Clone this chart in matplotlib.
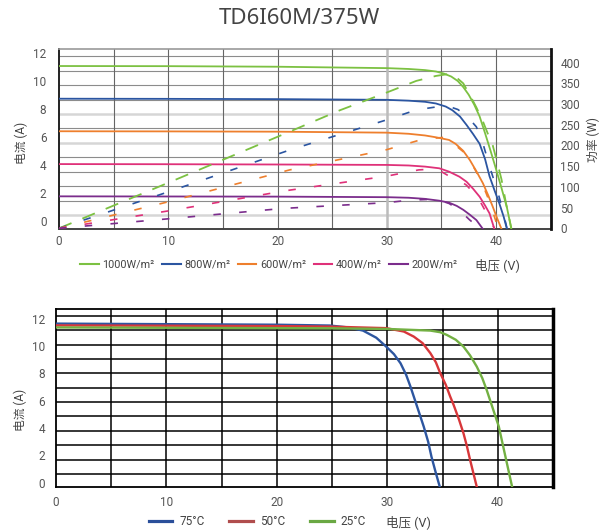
import matplotlib
matplotlib.use('Agg')
import matplotlib.pyplot as plt
import numpy as np
from matplotlib.lines import Line2D

plt.rcParams['font.family'] = ['Roboto', 'Noto Sans CJK SC', 'DejaVu Sans']

# ---- top chart: I-V curves at different irradiance (left axis, A) ----
irr_labels = ['1000W/m²', '800W/m²', '600W/m²', '400W/m²', '200W/m²']
irr_colors = ['#7cc142', '#2b55a1', '#ee7f2d', '#df3179', '#7b2d8c']

v_1000 = [0, 10, 20, 30, 32, 33.5, 34.5, 35.2, 35.9, 36.5, 37.0, 37.5, 38.0, 38.5, 39.0, 39.5, 40.0, 40.5, 41.0, 41.4]
i_1000 = [11.05, 11.04, 11.0, 10.9, 10.84, 10.76, 10.66, 10.52, 10.3, 9.98, 9.55, 9.0, 8.3, 7.45, 6.25, 5.0, 3.7, 2.35, 0.95, -0.57]
v_800 = [0, 10, 20, 30, 32, 33.5, 34.5, 35.4, 36.0, 36.7, 37.3, 37.9, 38.5, 39.0, 39.4, 39.9, 40.3, 40.7, 41.0]
i_800 = [8.72, 8.71, 8.69, 8.64, 8.58, 8.5, 8.38, 8.16, 7.9, 7.45, 6.85, 6.2, 5.5, 4.4, 3.2, 2.1, 1.26, 0.3, -0.57]
v_600 = [0, 10, 20, 30, 32, 33.5, 34.5, 35.7, 36.3, 37.0, 37.6, 38.2, 38.8, 39.3, 39.7, 40.1, 40.5]
i_600 = [6.4, 6.39, 6.37, 6.3, 6.22, 6.1, 5.97, 5.78, 5.5, 5.0, 4.35, 3.55, 2.69, 1.8, 1.02, 0.2, -0.57]
v_400 = [0, 10, 20, 30, 32, 33.5, 34.8, 35.7, 36.65, 37.3, 37.9, 38.5, 39.0, 39.4, 39.85]
i_400 = [4.06, 4.05, 4.03, 4.0, 3.96, 3.88, 3.76, 3.52, 3.16, 2.8, 2.3, 1.73, 1.1, 0.55, -0.57]
v_200 = [0, 10, 20, 30, 32, 33.5, 34.8, 35.7, 36.4, 37.0, 37.6, 38.2, 38.8]
i_200 = [1.76, 1.75, 1.74, 1.7, 1.66, 1.58, 1.45, 1.31, 1.08, 0.8, 0.45, 0.07, -0.57]

# power curves (right axis, W)
pv_1000 = [0, 10, 20, 25.7, 30, 32.7, 34.5, 35.5, 36.3, 37.0, 37.6, 38.2, 38.8, 39.3, 39.7, 40.1, 40.5, 40.9, 41.4]
p_1000 = [0, 110, 221, 285, 328, 356, 368, 372, 366, 350, 322, 292, 258, 225, 200, 160, 118, 62, 0]
pv_800 = [0, 10, 21.1, 30, 32.7, 34.5, 35.6, 36.5, 37.3, 38.2, 38.8, 39.4, 40.2, 40.6, 41.0]
p_800 = [0, 88, 189, 262, 286, 293, 295, 287, 272, 245, 205, 150, 84, 44, 0]
pv_600 = [0, 10, 21.1, 30, 33.0, 34.5, 35.4, 36.3, 37.0, 37.6, 38.2, 38.8, 39.3, 39.7, 40.1, 40.5]
p_600 = [0, 64, 141, 190, 213, 218, 220, 200, 185, 164, 136, 104, 71, 40, 8, 0]
pv_400 = [0, 10, 20.8, 30, 32.9, 34.0, 34.8, 35.7, 36.65, 37.3, 37.9, 38.5, 39.0, 39.4, 39.85]
p_400 = [0, 42, 91, 126, 141, 143, 140, 126, 116, 104, 87, 67, 43, 22, 0]
pv_200 = [0, 10, 20.5, 30, 32.1, 34.0, 34.8, 35.7, 36.4, 37.0, 37.6, 38.2, 38.8]
p_200 = [0, 23, 48, 62, 68, 70, 68, 60, 48, 35, 20, 7, 0]

# ---- bottom chart: I-V curves at different temperature ----
temp_labels = ['75°C', '50°C', '25°C']
v_75 = [0, 20, 24.8, 26.5, 27.8, 29.0, 29.9, 30.6, 31.2, 31.7, 32.1, 32.5, 32.8, 33.3, 33.7, 34.0, 34.4, 34.75]
i_75 = [11.63, 11.55, 11.49, 11.35, 11.12, 10.6, 9.95, 9.4, 8.73, 7.9, 7.02, 6.05, 5.32, 4.1, 3.0, 1.9, 0.7, -0.29]
v_50 = [0, 20, 24.8, 29.9, 31.5, 32.4, 33.2, 33.9, 34.4, 34.8, 35.3, 35.7, 36.0, 36.5, 36.9, 37.2, 37.5, 38.1]
i_50 = [11.5, 11.45, 11.41, 11.3, 11.05, 10.68, 10.2, 9.47, 8.8, 8.0, 7.15, 6.29, 5.7, 4.6, 3.61, 2.7, 1.66, -0.29]
v_25 = [0, 20, 24.8, 30, 33.9, 34.8, 35.4, 36.2, 36.9, 37.5, 38.1, 38.6, 39.0, 39.3, 39.6, 40.1, 40.4, 40.7, 41.3]
i_25 = [11.35, 11.3, 11.29, 11.24, 11.12, 11.0, 10.8, 10.45, 9.95, 9.3, 8.49, 7.65, 6.78, 6.05, 5.32, 4.1, 3.0, 1.9, -0.29]

fig = plt.figure(figsize=(6.12, 5.32), dpi=100)

fig.text(0.4886, 0.9656, 'TD6I60M/375W', ha='center', va='center',
         fontsize=16, color='#444444', family=['Noto Sans', 'DejaVu Sans'])

# top chart
ax1 = fig.add_axes([0.0964, 0.5695, 0.8034, 0.3383])
ax1.set_xlim(0, 45)
ax1.set_ylim(-0.57, 12.26)
ax1.set_xticks([0, 10, 20, 30, 40])
ax1.set_yticks([0, 2, 4, 6, 8, 10, 12])
ax1.tick_params(length=0, labelsize=8.5, colors='#555555')
ax1.tick_params(axis='y', pad=9)
ax1.tick_params(axis='x', pad=4)

for k in range(12):
    yg = 11.74 - 1.028 * k
    if k in (4, 6, 11):
        ax1.axhline(yg, color='#d6d6d6', lw=1.8, zorder=0.5)
    else:
        ax1.axhline(yg, color='#8c8c8c', lw=0.8, zorder=0.5)
for xg in [5, 10, 15, 20, 25, 35, 40]:
    ax1.axvline(xg, color='#666666', lw=0.8, zorder=0.5)
ax1.axvline(30, color='#bcbcbc', lw=1.8, zorder=0.5)

ax1.spines['top'].set_color('#999999')
ax1.spines['top'].set_linewidth(1.2)
ax1.spines['left'].set_color('#222222')
ax1.spines['left'].set_linewidth(1.4)
ax1.spines['bottom'].set_color('#444444')
ax1.spines['bottom'].set_linewidth(1.4)
ax1.spines['right'].set_visible(False)

iv_sets = [(v_1000, i_1000), (v_800, i_800), (v_600, i_600), (v_400, i_400), (v_200, i_200)]
for (vv, ii), c in zip(iv_sets, irr_colors):
    ax1.plot(vv, ii, color=c, lw=1.3, zorder=3)

ax2 = ax1.twinx()
ax2.set_ylim(-1.7, 432.9)
ax2.set_yticks([0, 50, 100, 150, 200, 250, 300, 350, 400])
ax2.tick_params(length=0, labelsize=8.5, colors='#555555', pad=7)
ax2.spines['right'].set_color('#111111')
ax2.spines['right'].set_linewidth(2)
for s in ['top', 'left', 'bottom']:
    ax2.spines[s].set_visible(False)

p_sets = [(pv_1000, p_1000), (pv_800, p_800), (pv_600, p_600), (pv_400, p_400), (pv_200, p_200)]
for n, ((vv, pp), c) in enumerate(zip(p_sets, irr_colors)):
    if n == 0:
        ax2.plot(vv, pp, color=c, lw=1.3, dashes=(7.5, 6.5))
    else:
        ax2.plot(vv, pp, color=c, lw=1.2, dashes=(4.5, 11.0), dash_capstyle='butt')
ax2.set_zorder(ax1.get_zorder() + 1)

fig.text(0.0355, 0.731, '电流 (A)', rotation=90, ha='center', va='center',
         fontsize=8.5, color='#444444')
fig.text(0.969, 0.737, '功率 (W)', rotation=90, ha='center', va='center',
         fontsize=8.5, color='#444444')

h_top = [Line2D([], [], color=c, lw=1.5) for c in irr_colors]
fig.legend(h_top, irr_labels, loc='center left', bbox_to_anchor=(0.131, 0.502),
           ncol=5, frameon=False, fontsize=7.8, handlelength=1.7, handletextpad=0.35,
           columnspacing=0.7, borderpad=0, borderaxespad=0, labelcolor='#444444')
fig.text(0.776, 0.502, '电压 (V)', ha='left', va='center', fontsize=9, color='#444444')

# bottom chart
ax3 = fig.add_axes([0.0915, 0.0852, 0.812, 0.3335])
ax3.set_xlim(0, 45)
ax3.set_ylim(-0.29, 12.68)
ax3.set_xticks([0, 10, 20, 30, 40])
ax3.set_yticks([0, 2, 4, 6, 8, 10, 12])
ax3.tick_params(length=0, labelsize=8.5, colors='#555555')
ax3.tick_params(axis='y', pad=8)
ax3.tick_params(axis='x', pad=7)

for k in range(12):
    ax3.axhline(12.19 - 1.05 * k, color='#000000', lw=1.1, zorder=0.5)
for xg in [5, 10, 15, 20, 25, 30, 35, 40]:
    ax3.axvline(xg, color='#000000', lw=1.1, zorder=0.5)
for s in ['top', 'left', 'bottom']:
    ax3.spines[s].set_linewidth(1.3)
ax3.spines['right'].set_linewidth(2.5)

temp_colors = ['#2d56a0', '#d8373a', '#73b043']
for (vv, ii), c in zip([(v_75, i_75), (v_50, i_50), (v_25, i_25)], temp_colors):
    ax3.plot(vv, ii, color=c, lw=1.7, zorder=3)

fig.text(0.0327, 0.229, '电流 (A)', rotation=90, ha='center', va='center',
         fontsize=8.5, color='#444444')

h_bot = [Line2D([], [], color=c, lw=2.3) for c in ['#2a4f9a', '#b04d4d', '#6aa843']]
fig.legend(h_bot, temp_labels, loc='center left', bbox_to_anchor=(0.243, 0.0194),
           ncol=3, frameon=False, fontsize=8.5, handlelength=2.0, handletextpad=0.6,
           columnspacing=2.1, borderpad=0, borderaxespad=0, labelcolor='#444444')
fig.text(0.631, 0.0194, '电压 (V)', ha='left', va='center', fontsize=9, color='#444444')

fig.savefig('out.png', dpi=100)
